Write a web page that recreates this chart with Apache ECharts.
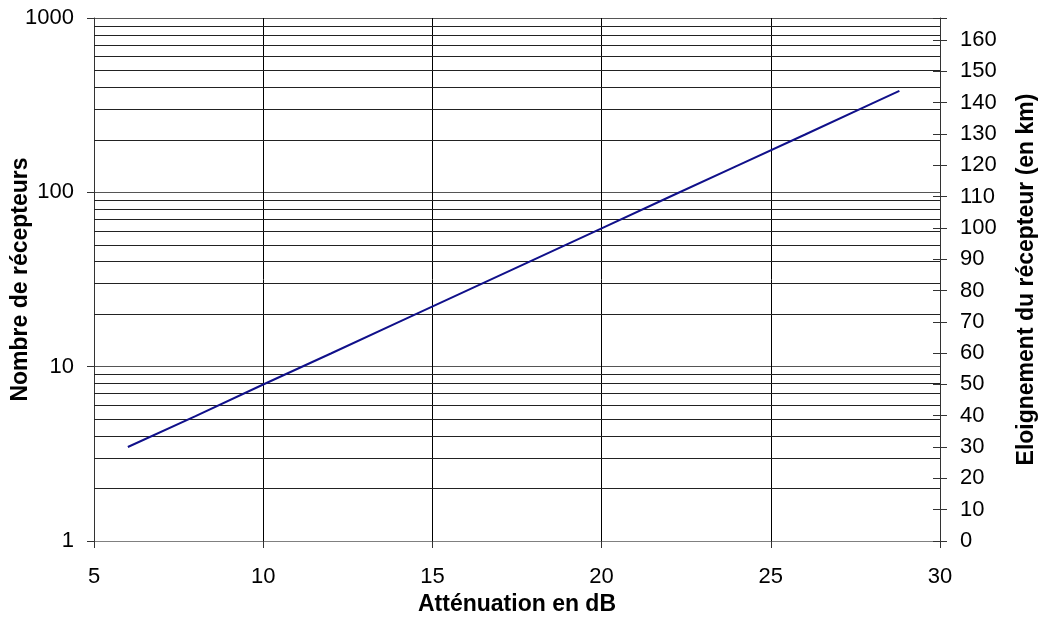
<!DOCTYPE html>
<html><head><meta charset="utf-8">
<script src="https://cdn.jsdelivr.net/npm/echarts@6/dist/echarts.min.js"></script>
<style>html,body{margin:0;padding:0;background:#fff}#c{width:1038px;height:619px}</style>
</head><body><div id="c"></div>
<script>
// Data
const attenuation = [6, 8, 10, 12, 14, 16, 18, 20, 22, 24, 26, 28, 28.8];
const receivers = [3.46, 5.2, 7.9, 11.9, 18.0, 27.2, 41.1, 62.1, 94, 142, 214, 324, 382];
const minorGridValues = [2,3,4,5,6,7,8,9,20,30,40,50,60,70,80,90,200,300,400,500,600,700,800,900];
const xTitle = 'Atténuation en dB';
const yLeftTitle = 'Nombre de récepteurs';
const yRightTitle = 'Eloignement du récepteur (en km)';

const FONT = 'Liberation Sans, Arial, sans-serif';
const chart = echarts.init(document.getElementById('c'), null, {renderer: 'canvas'});
const labelStyle = {fontFamily: FONT, fontSize: 22, color: '#000'};
const nameStyle = {fontFamily: FONT, fontSize: 23, fontWeight: 'bold', color: '#000'};

chart.setOption({
  animation: false,
  backgroundColor: '#fff',
  grid: {left: 94, right: 98, top: 18, bottom: 78, containLabel: false, outerBoundsMode: 'none', show: false},
  xAxis: {
    type: 'value', min: 5, max: 30, interval: 5,
    name: xTitle, nameLocation: 'middle', nameGap: 52, nameMoveOverlap: false, nameTextStyle: nameStyle,
    axisLine: {show: true, lineStyle: {color: '#808080', width: 1}},
    axisTick: {show: true, inside: false, length: 7, lineStyle: {color: '#333'}},
    axisLabel: Object.assign({margin: 25}, labelStyle),
    splitLine: {show: true, lineStyle: {color: '#000', width: 1}}
  },
  yAxis: [
    {
      type: 'log', logBase: 10, min: 1, max: 1000,
      name: yLeftTitle, nameLocation: 'middle', nameGap: 62, nameMoveOverlap: false, nameRotate: 90, nameTextStyle: nameStyle,
      axisLine: {show: true, lineStyle: {color: '#333', width: 1}},
      axisTick: {show: true, inside: false, length: 7, lineStyle: {color: '#333'}},
      axisLabel: Object.assign({margin: 20, formatter: v => String(Math.round(v))}, labelStyle),
      splitLine: {show: true, lineStyle: {color: '#555', width: 1}}
    },
    {
      type: 'value', min: 0, max: 167, interval: 10, position: 'right',
      name: yRightTitle, nameLocation: 'middle', nameGap: 75, nameRotate: 90, nameTextStyle: nameStyle,
      axisLine: {show: true, lineStyle: {color: '#333', width: 1}},
      axisTick: {show: true, inside: false, length: 7, lineStyle: {color: '#333'}},
      axisLabel: Object.assign({margin: 20, formatter: v => (v % 10 === 0 ? String(v) : '')}, labelStyle),
      splitLine: {show: false}
    },
    {
      type: 'value', min: 0, max: 167, interval: 10, position: 'right',
      axisLine: {show: false},
      axisTick: {show: true, inside: true, length: 7, lineStyle: {color: '#333'}},
      axisLabel: {show: false},
      splitLine: {show: false}
    }
  ],
  series: [{
    type: 'line',
    xAxisIndex: 0, yAxisIndex: 0,
    data: attenuation.map((x, i) => [x, receivers[i]]),
    showSymbol: false, symbol: 'none',
    lineStyle: {color: '#10108a', width: 2},
    markLine: {
      silent: true, symbol: 'none', animation: false,
      label: {show: false},
      lineStyle: {color: '#222', width: 1, type: 'solid'},
      data: minorGridValues.map(v => ({yAxis: v}))
    },
    z: 5
  }]
});
</script></body></html>
